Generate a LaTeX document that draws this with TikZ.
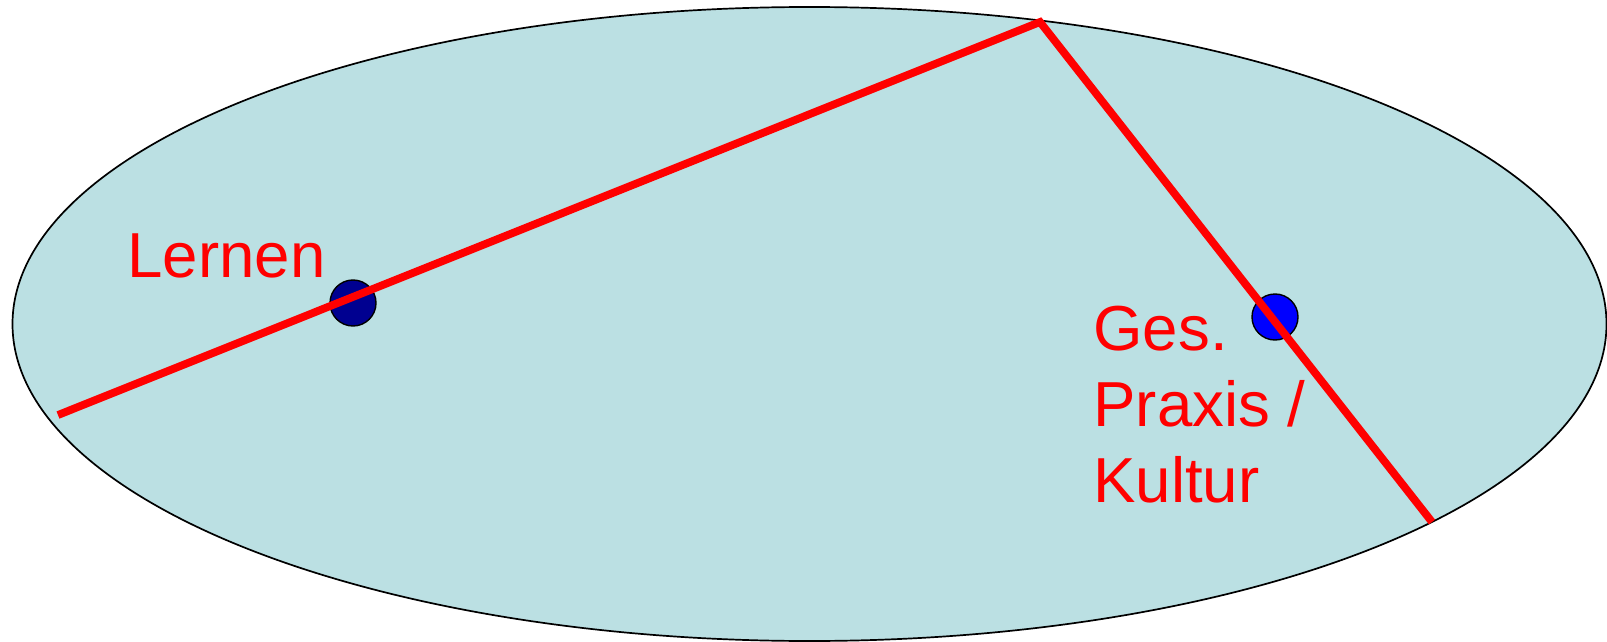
\documentclass[tikz,border=0pt]{standalone}
\usepackage{fontspec}
\setmainfont{Liberation Sans}
\definecolor{ellfill}{HTML}{BBE0E3}
\definecolor{darkdot}{HTML}{000090}
\definecolor{bluedot}{HTML}{0000FF}
\definecolor{redline}{HTML}{FF0000}
\begin{document}
\begin{tikzpicture}[x=0.5pt,y=-0.5pt,
  dotstyle/.style={circle,draw=black,line width=0.7pt,minimum size=23pt,inner sep=0pt},
  lbl/.style={text=redline,font=\fontsize{31.8pt}{38pt}\selectfont,anchor=base west,inner sep=0pt,align=left}]
\useasboundingbox (0,0) rectangle (1607,642);
\fill[ellfill,draw=black,line width=0.85pt] (809.5,324) ellipse [x radius=797, y radius=317];
\node[dotstyle,fill=darkdot] (lernen) at (353,303) {};
\node[dotstyle,fill=bluedot] (praxis) at (1275,317) {};
\coordinate (start) at (58,415);
\coordinate (apex) at (1040,22);
\coordinate (finish) at (1432,522);
\draw[redline,line width=3.9pt] (start) -- (apex) -- (finish);
\node[lbl] (lernenlbl) at (127,277) {Lernen};
\node[lbl,anchor=north west] (praxislbl) at (1093,306) {Ges.\\Praxis /\\Kultur};
\end{tikzpicture}
\end{document}
